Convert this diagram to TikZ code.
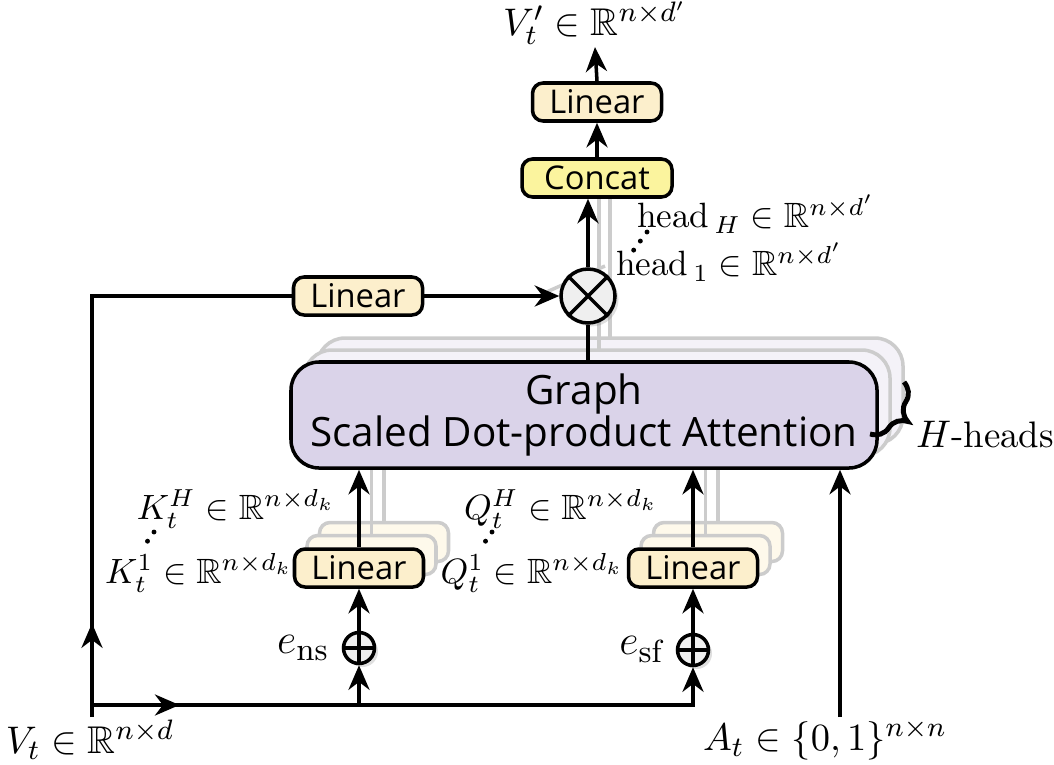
\documentclass[tikz,border=0pt]{standalone}
\usepackage{amsfonts,amsmath,amssymb}
\usepackage{fontspec}
\setsansfont{Open Sans}
\usepackage{xcolor}
\usepackage{tikz}
\usetikzlibrary{shapes.geometric, arrows.meta, positioning, calc, decorations.pathreplacing, decorations.markings, shadows}

\definecolor{linfill}{HTML}{FCEFCC}
\definecolor{catfill}{HTML}{FBF49E}
\definecolor{attfill}{HTML}{DAD3E9}
\definecolor{opfill}{HTML}{EFEFEF}

\begin{document}
\begin{tikzpicture}[font=\fontsize{11}{13}\selectfont, >={Stealth[length=7pt,width=6pt]},
  line/.style={line width=1pt},
  lin/.style={draw, line width=1pt, rounded corners=3pt, fill=linfill, inner sep=0pt,
    font=\fontsize{9.3}{11}\selectfont\sffamily, minimum width=1.29cm, minimum height=0.38cm},
  ghost/.style={draw=black!20, line width=1pt, rounded corners=3pt},
  fade/.style={black!20, line width=1pt},
  op/.style={draw, circle, line width=1pt, fill=opfill, inner sep=0pt,
    drop shadow={opacity=0.25, shadow xshift=1pt, shadow yshift=-1pt}},
  lab/.style={inner sep=1pt, font=\fontsize{10}{12}\selectfont},
  dots/.style={line width=1.4pt, line cap=round, dash pattern=on 0pt off 3.2pt},
  midarr/.style={postaction={decorate}, decoration={markings, mark=at position #1 with {\arrow{>}}}}]
  \useasboundingbox (0,0) rectangle (10.54,7.64);

  % faded copies of the other heads
  \foreach \i in {2,1} {
    \draw[ghost, fill=attfill!30, rounded corners=8pt] ($(2.91,2.96)+(0.13*\i,0.12*\i)$) rectangle ++(5.86,1.06);
    \draw[fade] (5.88+0.11*\i, 4.02+0.12*\i) -- (5.88+0.11*\i, 5.67);
    \foreach \x in {3.59,6.93} {
      \draw[fade] (\x+0.125*\i, 2.155+0.13*\i) -- (\x+0.125*\i, 2.96);
      \draw[ghost, fill=linfill!40] ($(\x-0.645,1.765)+(0.125*\i,0.13*\i)$) rectangle ++(1.29,0.39);
    }
  }
  \draw[fade] (5.42,4.70) -- (6.05,4.98);

  \node[draw, line width=1pt, rounded corners=8pt, fill=attfill, minimum width=5.86cm, minimum height=1.06cm,
    align=center, font=\fontsize{11.5}{12}\selectfont\sffamily] (att) at (5.84,3.49) {Graph\\Scaled Dot-product Attention};

  \node[lin] (link) at (3.59,1.96) {Linear};
  \node[lin] (linq) at (6.93,1.96) {Linear};
  \node[op, minimum size=0.31cm] (addk) at (3.59,1.16) {};
  \node[op, minimum size=0.31cm] (addq) at (6.93,1.14) {};
  \node[op, minimum size=0.54cm] (mul) at (5.88,4.68) {};
  \node[lin] (linv) at (3.58,4.68) {Linear};
  \node[lin, fill=catfill, minimum width=1.50cm] (cat) at (5.97,5.86) {Concat};
  \node[lin] (lout) at (5.97,6.62) {Linear};

  \draw[line] (addk.north) -- (addk.south) (addk.west) -- (addk.east);
  \draw[line] (addq.north) -- (addq.south) (addq.west) -- (addq.east);
  \draw[line] (mul.north west) -- (mul.south east) (mul.north east) -- (mul.south west);

  % labels
  \node[inner sep=0.5pt] (vout) at (5.95,7.41) {$V_t' \in \mathbb{R}^{n\times d'}$};
  \node (vt) at (0.90,0.24) {$V_t \in \mathbb{R}^{n\times d}$};
  \node (at) at (8.25,0.24) {$A_t \in \{0,1\}^{n\times n}$};
  \node[lab] (kh) at (2.36,2.55) {$K_t^H \in \mathbb{R}^{n\times d_k}$};
  \node[lab] (k1) at (1.99,1.91) {$K_t^1 \in \mathbb{R}^{n\times d_k}$};
  \node[lab] (qh) at (5.61,2.55) {$Q_t^H \in \mathbb{R}^{n\times d_k}$};
  \node[lab] (q1) at (5.32,1.91) {$Q_t^1 \in \mathbb{R}^{n\times d_k}$};
  \node[lab, anchor=west] (hh) at (6.33,5.50) {$\mathrm{head}_{\,H} \in \mathbb{R}^{n\times d'}$};
  \node[lab, anchor=west] (h1) at (6.12,5.02) {$\mathrm{head}_{\,1} \in \mathbb{R}^{n\times d'}$};
  \node[left=0pt of addk, font=\fontsize{13}{15}\selectfont] (ens) {$e_{\mathrm{ns}}$};
  \node[left=0pt of addq, font=\fontsize{13}{15}\selectfont] (esf) {$e_{\mathrm{sf}}$};
  \node[anchor=west, inner sep=1pt, font=\fontsize{10.5}{12}\selectfont] (hd) at (9.12,3.29) {$H$-heads};

  \draw[dots] (1.54,2.32) -- (1.42,2.15);
  \draw[dots] (4.92,2.32) -- (4.80,2.15);
  \draw[dots] (6.47,5.32) -- (6.33,5.13);
  \draw[decorate, decoration={brace, amplitude=7pt}, line width=1.4pt] (9.04,3.82) -- (8.70,3.30);

  % connections
  \coordinate (vb) at (0.92,0.47);
  \coordinate (vc) at (0.92,0.59);
  \coordinate (ab) at (8.40,0.47);
  \draw[line, midarr=0.151] (vb) |- (linv.west);
  \draw[line, ->, midarr=0.137] (vc) -| (addq.south);
  \draw[line, ->] (addk.south |- vc) -- (addk.south);
  \draw[line, ->] (addk.north) -- (link.south);
  \draw[line, ->] (addq.north) -- (linq.south);
  \draw[line, ->] (link.north) -- (link.north |- att.south);
  \draw[line, ->] (linq.north) -- (linq.north |- att.south);
  \draw[line, ->] (ab) -- (ab |- att.south);
  \draw[line, ->] (linv.east) -- (mul.west);
  \draw[line] (att.north -| mul) -- (mul.south);
  \draw[line, ->] (mul.north) -- (mul.north |- cat.south);
  \draw[line, ->] (cat.north) -- (lout.south);
  \draw[line, ->] (lout.north) -- (vout.south);
\end{tikzpicture}
\end{document}
